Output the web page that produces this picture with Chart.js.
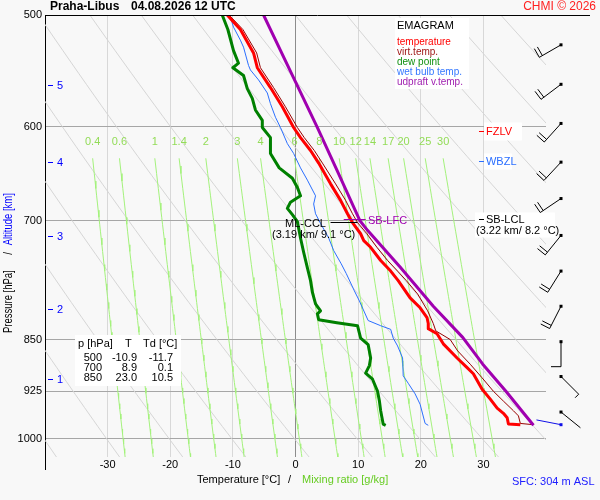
<!DOCTYPE html>
<html>
<head>
<meta charset="utf-8">
<script src="https://cdn.jsdelivr.net/npm/chart.js@4.4.0/dist/chart.umd.min.js"></script>
<style>
  html, body { margin: 0; padding: 0; background: #f8f8f8; }
  #wrap { width: 600px; height: 500px; }
</style>
</head>
<body>
<div id="wrap"><canvas id="emagram" width="600" height="500"></canvas></div>
<script>
const FONT = '"Liberation Sans", Arial, sans-serif';

// sounding profiles: pressure [hPa] / temperature [°C]
const tempP = [500, 512, 532, 545, 563, 581, 601, 611, 624, 637, 659, 677, 692, 702, 715, 723, 731, 747, 760, 772, 794, 807, 820, 828, 835, 842, 856, 876, 890, 899, 922, 937, 951, 959, 966, 976, 977];
const tempT = [-10.9, -8.8, -6.7, -6.1, -4.0, -2.1, -0.3, 0.8, 2.4, 3.7, 5.6, 7.2, 8.3, 9.1, 10.4, 10.9, 12.0, 13.6, 15.2, 16.4, 18.3, 19.9, 21.0, 21.2, 21.2, 22.6, 23.6, 25.8, 27.4, 28.4, 29.8, 31.1, 32.2, 33.2, 33.8, 34.0, 35.9];

const virtP = [500, 512, 532, 545, 563, 581, 601, 611, 624, 637, 659, 677, 692, 702, 715, 731, 747, 760, 772, 789, 811, 828, 838, 850, 866, 885, 905, 925, 940, 955, 963, 975, 977];
const virtT = [-10.6, -8.4, -6.2, -5.6, -3.5, -1.6, 0.3, 1.4, 3.0, 4.3, 6.4, 8.0, 9.1, 9.9, 11.4, 13.0, 14.7, 16.3, 17.7, 19.5, 21.1, 22.0, 22.4, 24.7, 25.9, 27.9, 29.8, 31.6, 33.2, 34.8, 35.6, 35.9, 38.0];

const dewP = [500, 512, 530, 541, 545, 552, 564, 573, 584, 594, 601, 611, 627, 642, 653, 663, 672, 679, 686, 693, 701, 720, 737, 756, 772, 787, 802, 811, 815, 823, 827, 831, 848, 857, 876, 887, 898, 907, 925, 940, 955, 976, 978];
const dewT = [-11.7, -10.8, -9.9, -9.1, -10.0, -8.3, -7.7, -6.9, -6.4, -5.3, -5.3, -4.0, -4.0, -2.6, -0.5, 0.3, 0.8, -0.8, -1.3, -0.5, 0.3, 0.8, 1.3, 1.9, 2.4, 2.7, 3.2, 4.0, 3.5, 3.7, 6.6, 9.9, 10.4, 11.6, 12.0, 11.8, 11.2, 12.3, 13.1, 13.4, 13.6, 14.0, 14.4];

const wetP = [500, 510, 521, 527, 543, 547, 556, 568, 578, 591, 601, 617, 627, 642, 655, 672, 681, 692, 703, 720, 735, 751, 763, 785, 798, 824, 831, 836, 848, 859, 876, 902, 913, 929, 945, 960, 975, 978];
const wetT = [-10.5, -9.9, -8.8, -8.3, -7.5, -7.2, -5.9, -4.5, -4.0, -3.2, -2.4, -1.3, -0.3, 0.8, 1.9, 3.2, 2.9, 3.2, 4.0, 5.3, 6.1, 7.3, 8.1, 9.4, 10.2, 11.6, 13.6, 15.2, 15.6, 16.3, 17.1, 17.2, 18.0, 19.1, 19.9, 20.3, 20.7, 21.2];

const parcelP = [500, 553, 601, 650, 700, 711, 755, 805, 847, 885, 925, 978];
const parcelT = [-5.1, -0.4, 3.5, 7.0, 10.3, 11.5, 16.7, 22.0, 26.7, 29.9, 33.6, 38.0];

// axes
const pressureTicks = [500, 600, 700, 850, 925, 1000];
const altKm = [1, 2, 3, 4, 5];
const altP = [906, 808, 718, 636, 561];

// background lines
const adiabatThetas = [233, 243, 253, 263, 273, 283, 293, 303, 313, 323, 333, 343, 353, 363, 373, 383, 393];
const mixRatios = [0.4, 0.6, 1, 1.4, 2, 3, 4, 6, 8, 10, 12, 14, 17, 20, 25, 30];

// wind barbs
const windP = [525, 560, 597, 636, 675, 717, 760, 805, 853, 903, 957];
const windDir = [240, 233, 222, 223, 236, 219, 212, 207, 180, 135, 129];
const windKt = [20, 20, 20, 20, 20, 20, 20, 20, 10, 5, 0];
const sfcP = 977;
const sfcDir = 281;

// table
const tableP = ["500", "700", "850"];
const tableT = ["-10.9", "8.9", "23.0"];
const tableTd = ["-11.7", "0.1", "10.5"];

function pairs(ps, ts) {
  return ps.map((p, i) => ({ x: ts[i], y: p }));
}

function adiabat(theta) {
  const pts = [];
  for (let p = 480; p <= 1040; p += 10) {
    pts.push({ x: theta * Math.pow(p / 1000, 0.286) - 273.15, y: p });
  }
  return pts;
}

function mixTd(w, p) {
  const e = w * p / (622 + w);
  const l = Math.log(e / 6.112);
  return 243.5 * l / (17.67 - l);
}

function mixLine(w) {
  const pts = [];
  for (let p = 632; p <= 1040; p += 8) pts.push({ x: mixTd(w, p), y: p });
  return pts;
}

function profile(data, color, width, order) {
  return {
    data, borderColor: color, borderWidth: width, pointRadius: 0,
    showLine: true, tension: 0, order, borderJoinStyle: "round", fill: false,
  };
}

const datasets = [
  profile(pairs(parcelP, parcelT), "#a000b0", 3, 1),
  profile(pairs(tempP, tempT), "#ff0000", 3, 2),
  profile(pairs(virtP, virtT), "#990000", 1, 3),
  profile(pairs(wetP, wetT), "#2b6fff", 1, 4),
  profile(pairs(dewP, dewT), "#008000", 3, 5),
];
adiabatThetas.forEach((th) => datasets.push(profile(adiabat(th), "#d6d6d6", 1, 20)));
mixRatios.forEach((w) => datasets.push(profile(mixLine(w), "#a4f27c", 1, 15)));

function line(ctx, x1, y1, x2, y2) {
  ctx.beginPath();
  ctx.moveTo(x1, y1);
  ctx.lineTo(x2, y2);
  ctx.stroke();
}

function drawBarb(ctx, x0, y0, dir, kt, color) {
  const len = 25;
  const a = dir * Math.PI / 180;
  const ux = Math.sin(a), uy = -Math.cos(a);
  const px = -uy, py = ux;
  const x1 = x0 + ux * len, y1 = y0 + uy * len;
  ctx.strokeStyle = color;
  ctx.fillStyle = color;
  ctx.lineWidth = 1;
  line(ctx, x0, y0, x1, y1);
  ctx.fillRect(x0 - 1.5, y0 - 1.5, 3, 3);
  let rest = kt;
  let k = 0;
  while (rest >= 10) {
    const bx = x1 - ux * k * 3.5, by = y1 - uy * k * 3.5;
    line(ctx, bx, by, bx + px * 10, by + py * 10);
    rest -= 10;
    k++;
  }
  if (rest >= 5) {
    const bx = x1 - ux * k * 3.5, by = y1 - uy * k * 3.5;
    line(ctx, bx, by, bx + px * 5, by + py * 5);
  }
}

function box(ctx, x, y, w, h) {
  ctx.fillStyle = "#ffffff";
  ctx.fillRect(x, y, w, h);
}

const emagramDecor = {
  id: "emagramDecor",
  beforeDraw(chart) {
    const ctx = chart.ctx;
    ctx.save();
    ctx.fillStyle = "#f8f8f8";
    ctx.fillRect(0, 0, chart.width, chart.height);
    ctx.restore();
  },
  afterDraw(chart) {
    const { ctx, chartArea: area, scales } = chart;
    const sx = scales.x, sy = scales.y;
    ctx.save();
    ctx.textBaseline = "middle";

    // frame
    ctx.strokeStyle = "#000";
    ctx.lineWidth = 1;
    line(ctx, area.left, area.top + 0.5, 590, area.top + 0.5);
    line(ctx, area.left + 0.5, area.bottom, area.left + 0.5, 470);

    // altitude marks
    ctx.strokeStyle = "#0000ff";
    ctx.fillStyle = "#0000ff";
    ctx.font = "11px " + FONT;
    ctx.textAlign = "left";
    altKm.forEach((km, i) => {
      const yy = Math.round(sy.getPixelForValue(altP[i])) + 0.5;
      line(ctx, area.left + 3, yy, area.left + 8, yy);
      ctx.fillText(String(km), area.left + 12, yy);
    });

    // mixing ratio labels
    ctx.fillStyle = "#93dc58";
    ctx.textAlign = "center";
    mixRatios.forEach((w) => {
      ctx.fillText(String(w), sx.getPixelForValue(mixTd(w, 632)), 142);
    });

    // legend
    box(ctx, 395, 18, 74, 71);
    ctx.textAlign = "left";
    ctx.fillStyle = "#000";
    ctx.font = "11px " + FONT;
    ctx.fillText("EMAGRAM", 397, 26);
    ctx.font = "10px " + FONT;
    const legend = [
      ["temperature", "#ff0000"],
      ["virt.temp.", "#a01818"],
      ["dew point", "#109010"],
      ["wet bulb temp.", "#3377ff"],
      ["udpraft v.temp.", "#a020b0"],
    ];
    legend.forEach(([t, c], i) => {
      ctx.fillStyle = c;
      ctx.fillText(t, 397, 42 + i * 10);
    });

    // table
    box(ctx, 75, 335, 106, 51);
    ctx.fillStyle = "#000";
    ctx.font = "11px " + FONT;
    ctx.textAlign = "left";
    ctx.fillText("p [hPa]", 78, 344);
    ctx.fillText("T", 125, 344);
    ctx.fillText("Td [°C]", 143, 344);
    ctx.textAlign = "right";
    tableP.forEach((p, i) => {
      const yy = 358 + i * 10;
      ctx.fillText(p, 102, yy);
      ctx.fillText(tableT[i], 137, yy);
      ctx.fillText(tableTd[i], 173, yy);
    });

    // level annotations
    ctx.textAlign = "left";
    ctx.font = "11px " + FONT;
    const xr = sx.getPixelForValue(29.3);
    const fz = Math.round(sy.getPixelForValue(604)) + 0.5;
    box(ctx, xr + 5, fz - 9, 38, 18);
    ctx.strokeStyle = "#ff0000";
    ctx.fillStyle = "#ff0000";
    line(ctx, xr, fz, xr + 5, fz);
    ctx.fillText("FZLV", xr + 7, fz);

    const wb = Math.round(sy.getPixelForValue(635)) + 0.5;
    box(ctx, xr + 5, wb - 8, 28, 16);
    ctx.strokeStyle = "#2b6fff";
    ctx.fillStyle = "#2b6fff";
    line(ctx, xr, wb, xr + 5, wb);
    ctx.fillText("WBZL", xr + 7, wb);

    const lcl = Math.round(sy.getPixelForValue(698)) + 0.5;
    box(ctx, xr - 4, lcl - 7, 80, 25);
    ctx.strokeStyle = "#000";
    ctx.fillStyle = "#000";
    line(ctx, xr, lcl, xr + 5, lcl);
    ctx.fillText("SB-LCL", xr + 7, lcl);
    ctx.fillText("(3.22 km/ 8.2 °C)", xr - 3, lcl + 11);

    const ccl = Math.round(sy.getPixelForValue(701)) + 0.5;
    line(ctx, sx.getPixelForValue(5.6), ccl, sx.getPixelForValue(9.9), ccl);
    ctx.fillText("ML-CCL", 285, ccl + 1);
    ctx.fillText("(3.19 km/ 9.1 °C)", 272, ccl + 12);

    const lfc = Math.round(sy.getPixelForValue(699)) - 0.5;
    ctx.strokeStyle = "#a000b0";
    ctx.fillStyle = "#a000b0";
    line(ctx, sx.getPixelForValue(7.7), lfc, sx.getPixelForValue(11.2), lfc);
    ctx.fillText("SB-LFC", 368, lfc + 1);

    // wind barbs
    windP.forEach((p, i) => {
      drawBarb(ctx, 561, sy.getPixelForValue(p), windDir[i], windKt[i], "#000");
    });
    drawBarb(ctx, 561, sy.getPixelForValue(sfcP), sfcDir, 0, "#1010e8");

    // titles
    ctx.textAlign = "left";
    ctx.fillStyle = "#000";
    ctx.font = "bold 12px " + FONT;
    ctx.fillText("Praha-Libus", 50, 7);
    ctx.fillText("04.08.2026 12 UTC", 131, 7);
    ctx.font = "12px " + FONT;
    ctx.textAlign = "right";
    ctx.fillStyle = "#ff2020";
    ctx.fillText("CHMI © 2026", 596, 7);

    ctx.font = "11px " + FONT;
    ctx.textAlign = "left";
    ctx.fillStyle = "#000";
    ctx.fillText("Temperature [°C]", 197, 480);
    ctx.fillText("/", 288, 480);
    ctx.fillStyle = "#66cc22";
    ctx.fillText("Mixing ratio [g/kg]", 302, 480);
    ctx.fillStyle = "#2020ff";
    ctx.fillText("SFC: 304 m ASL", 512, 482);

    ctx.font = "12px " + FONT;
    ctx.translate(9, 333);
    ctx.rotate(-Math.PI / 2);
    ctx.scale(0.79, 1);
    ctx.fillStyle = "#000";
    ctx.fillText("Pressure [hPa]", 0, 0);
    ctx.fillText("/", 99, 0);
    ctx.fillStyle = "#0000ff";
    ctx.fillText("Altitude [km]", 111, 0);
    ctx.restore();
  },
};

new Chart(document.getElementById("emagram"), {
  type: "scatter",
  data: { datasets },
  options: {
    responsive: false,
    animation: false,
    events: [],
    layout: { padding: { left: 0, right: 54, top: 15, bottom: 0 } },
    plugins: { legend: { display: false }, tooltip: { enabled: false } },
    scales: {
      x: {
        type: "linear",
        min: -40,
        max: 40,
        afterFit: (s) => { s.height = 43; },
        ticks: {
          stepSize: 10,
          padding: 1,
          color: "#000",
          font: { size: 11, family: FONT },
          callback: (v) => (Math.abs(v) === 40 ? "" : String(v)),
        },
        grid: {
          drawTicks: false,
          color: (c) => {
            const v = c.tick ? c.tick.value : null;
            if (v === 0) return "#8c8c8c";
            if (v === -40 || v === 40) return "rgba(0,0,0,0)";
            return "#d8d8d8";
          },
        },
        border: { display: false },
      },
      y: {
        type: "logarithmic",
        reverse: true,
        min: 500,
        max: 1030,
        afterFit: (s) => { s.width = 45; },
        afterBuildTicks: (s) => { s.ticks = pressureTicks.map((v) => ({ value: v })); },
        ticks: {
          padding: 3,
          color: "#000",
          font: { size: 11, family: FONT },
          callback: (v) => String(v),
        },
        grid: {
          drawTicks: false,
          color: (c) => (c.tick && c.tick.value === 500 ? "rgba(0,0,0,0)" : "#a6a6a6"),
        },
        border: { display: true, color: "#000", width: 1 },
      },
    },
  },
  plugins: [emagramDecor],
});
</script>
</body>
</html>
